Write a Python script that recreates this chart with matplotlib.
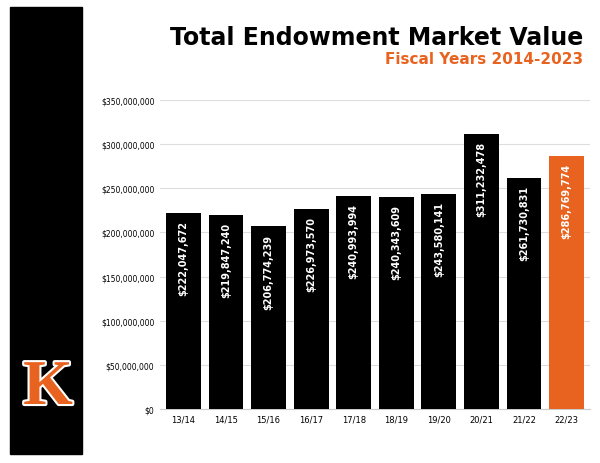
import matplotlib
matplotlib.use("Agg")
import matplotlib.pyplot as plt
import matplotlib.patheffects as pe
from matplotlib.patches import Rectangle

years = ["13/14","14/15","15/16","16/17","17/18","18/19","19/20","20/21","21/22","22/23"]
values = [222047672,219847240,206774239,226973570,240993994,240343609,243580141,311232478,261730831,286769774]
yticks = [0,50e6,100e6,150e6,200e6,250e6,300e6,350e6]
ORANGE = "#e8631f"

fig = plt.figure(figsize=(6,4.64), dpi=100)
fig.patches.append(Rectangle((10/600, 1-455/464), 72/600, 447/464, transform=fig.transFigure, color="black", zorder=0))
fig.text(48/600, 1-390/464, "K", fontsize=46, fontweight="bold", family="Liberation Serif",
         color=ORANGE, ha="center", va="center",
         path_effects=[pe.withStroke(linewidth=3, foreground="white")])

ax = fig.add_axes([160/600, 1-410/464, 430/600, 309/464])
colors = ["black"]*9 + [ORANGE]
ax.bar(range(len(years)), values, width=0.82, color=colors, zorder=3)
for i, v in enumerate(values):
    ax.text(i, v - 8e6, f"${v:,}", rotation=90, ha="center", va="top", color="white",
            fontsize=7, fontweight="bold", zorder=4)
ax.set_ylim(0, 350e6)
ax.set_xlim(-0.55, 9.55)
ax.set_yticks(yticks)
ax.set_yticklabels([f"${int(t):,}" for t in yticks], fontsize=5.5)
ax.set_xticks(range(len(years)))
ax.set_xticklabels(years, fontsize=6)
ax.grid(axis="y", color="#dddddd", linewidth=0.8, zorder=0)
for s in ax.spines.values():
    s.set_visible(False)
ax.spines["bottom"].set_visible(True)
ax.spines["bottom"].set_color("#cccccc")
ax.tick_params(length=0, pad=4)

fig.text(583/600, 1-38/464, "Total Endowment Market Value", fontsize=17, fontweight="bold",
         ha="right", va="center", color="black")
fig.text(583/600, 1-60/464, "Fiscal Years 2014-2023", fontsize=11, fontweight="bold",
         ha="right", va="center", color=ORANGE)
fig.savefig("out.png", dpi=100)
